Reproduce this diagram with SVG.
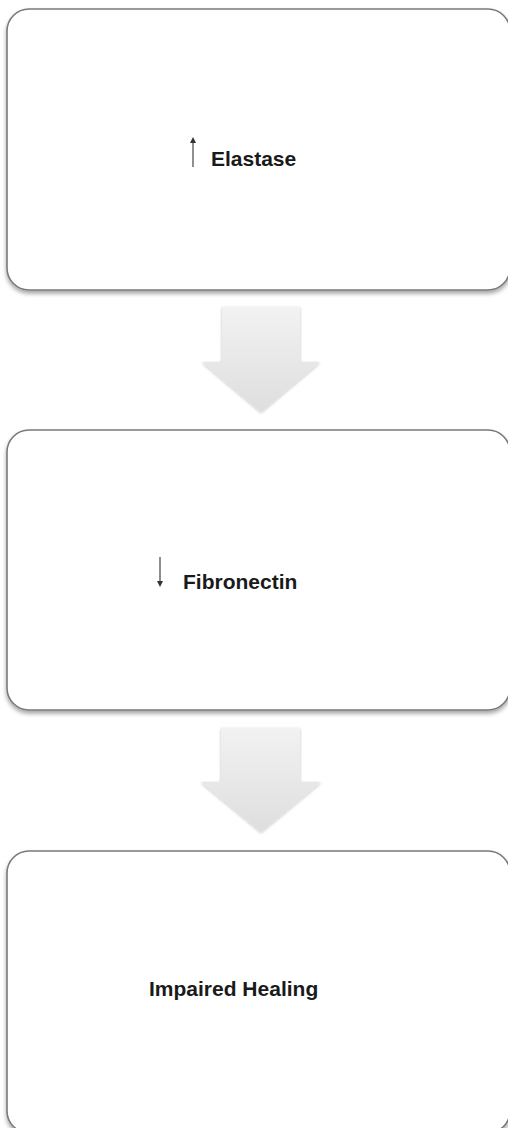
<svg xmlns="http://www.w3.org/2000/svg" width="508" height="1128" viewBox="0 0 508 1128">
<style>
.box{fill:#ffffff;stroke:#7a7a7a;stroke-width:1.6;filter:url(#sh);}
.lbl{font-family:"Liberation Sans",Arial,sans-serif;font-weight:bold;font-size:21px;fill:#1a1a1a;}
.blk{fill:url(#ag);filter:url(#ash);}
.sym{stroke:#333;stroke-width:1.1;fill:none;}
.symh{fill:#333;}
</style>
<defs>
<filter id="sh" x="-5%" y="-5%" width="110%" height="115%">
<feDropShadow dx="0" dy="3" stdDeviation="2.2" flood-color="#000" flood-opacity="0.35"/>
</filter>
<filter id="ash" x="-20%" y="-20%" width="140%" height="140%">
<feDropShadow dx="0" dy="1" stdDeviation="1.5" flood-color="#000" flood-opacity="0.25"/>
</filter>
<linearGradient id="ag" x1="0" y1="0" x2="0" y2="1">
<stop offset="0" stop-color="#f2f2f2"/>
<stop offset="1" stop-color="#dedede"/>
</linearGradient>
</defs>
<rect width="508" height="1128" fill="#ffffff"/>
<g id="connectors">
<polygon class="blk" points="222,307 300,307 300,362 320,362 261,412 202,362 222,362"/>
<polygon class="blk" points="221,728 300,728 300,782 321,782 261,832 201,782 221,782"/>
</g>
<g id="node1">
<rect class="box" x="7" y="9" width="503" height="281" rx="22" ry="22"/>
<line class="sym" x1="193" y1="142" x2="193" y2="167"/>
<polygon class="symh" points="193,137 196,143 190,143"/>
<text class="lbl" x="211" y="166">Elastase</text>
</g>
<g id="node2">
<rect class="box" x="7" y="430" width="503" height="280" rx="22" ry="22"/>
<line class="sym" x1="160" y1="557" x2="160" y2="582"/>
<polygon class="symh" points="160,587 163,581 157,581"/>
<text class="lbl" x="183" y="589">Fibronectin</text>
</g>
<g id="node3">
<rect class="box" x="7" y="851" width="503" height="282" rx="22" ry="22"/>
<text class="lbl" x="149" y="996">Impaired Healing</text>
</g>
</svg>
